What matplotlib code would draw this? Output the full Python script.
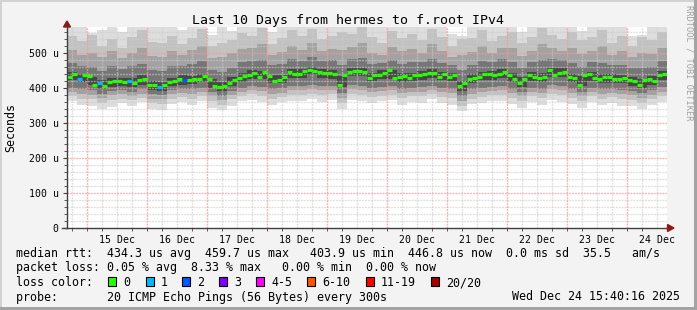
import matplotlib
matplotlib.use("Agg")
import matplotlib.pyplot as plt
import numpy as np
from matplotlib.patches import Rectangle, Polygon
from matplotlib.lines import Line2D

# ---------------- data ----------------
title = "Last 10 Days from hermes to f.root IPv4"
day_labels = ["15 Dec", "16 Dec", "17 Dec", "18 Dec", "19 Dec",
              "20 Dec", "21 Dec", "22 Dec", "23 Dec", "24 Dec"]
y_tick_values = [0, 100, 200, 300, 400, 500]
y_tick_labels = ["0", "100 u", "200 u", "300 u", "400 u", "500 u"]

# median RTT (microseconds), one value every 2 hours over 10 days
median_rtt = [431, 440, 425, 436, 433, 410, 414, 406, 418, 419,
              421, 416, 420, 415, 422, 427, 409, 408, 402, 410,
              417, 421, 425, 423, 423, 425, 426, 433, 426, 405,
              404, 407, 414, 424, 429, 435, 437, 442, 432, 446,
              433, 421, 422, 432, 447, 440, 440, 448, 451, 450,
              445, 442, 442, 440, 410, 436, 445, 449, 448, 447,
              430, 436, 438, 444, 452, 428, 431, 434, 428, 438,
              436, 440, 444, 442, 432, 440, 431, 436, 405, 413,
              427, 430, 432, 440, 440, 436, 440, 446, 438, 427,
              415, 427, 438, 432, 430, 432, 452, 438, 444, 446,
              432, 428, 410, 436, 440, 430, 426, 432, 431, 426,
              427, 428, 422, 420, 410, 423, 425, 420, 436, 440]
# packets lost (of 20) for each median sample
loss_count = [0, 0, 1, 0, 0, 0, 1, 0, 0, 0,
              0, 0, 1, 0, 0, 0, 0, 0, 1, 0,
              0, 0, 0, 2, 0, 0, 0, 0, 0, 0,
              0, 0, 0, 0, 0, 0, 0, 0, 0, 0,
              0, 0, 0, 0, 0, 0, 0, 0, 0, 0,
              0, 0, 0, 0, 0, 0, 0, 0, 0, 0,
              0, 0, 0, 0, 0, 0, 0, 0, 0, 0,
              0, 0, 0, 0, 0, 0, 0, 0, 0, 0,
              0, 0, 0, 0, 0, 0, 0, 0, 0, 0,
              0, 0, 0, 0, 0, 0, 0, 0, 0, 0,
              0, 0, 0, 0, 0, 0, 0, 0, 0, 0,
              0, 0, 0, 0, 0, 0, 0, 0, 0, 0]

# smoke: ping distribution per 4-hour column (upper edges hi0..hi4, lower edges lo4..lo0)
smoke_hi0 = [580, 580, 558, 565, 580, 560, 580, 580, 580, 575,
             580, 565, 580, 580, 552, 580, 562, 580, 580, 580,
             560, 580, 580, 580, 580, 580, 580, 580, 580, 580,
             580, 580, 580, 580, 580, 580, 580, 580, 555, 550,
             580, 580, 580, 580, 580, 560, 580, 580, 580, 580,
             580, 562, 580, 580, 580, 580, 548, 552, 580, 580]
smoke_hi1 = [548, 535, 552, 520, 540, 515, 545, 565, 532, 528,
             550, 525, 542, 570, 520, 530, 536, 558, 550, 572,
             525, 542, 565, 550, 568, 540, 548, 560, 554, 575,
             545, 530, 562, 544, 555, 536, 570, 546, 520, 540,
             542, 566, 535, 550, 560, 530, 546, 572, 552, 540,
             560, 538, 546, 565, 530, 550, 520, 545, 536, 560]
smoke_hi2 = [510, 495, 500, 488, 505, 485, 500, 515, 492, 488,
             505, 495, 510, 520, 485, 490, 500, 512, 515, 525,
             495, 504, 520, 510, 528, 505, 512, 510, 516, 530,
             500, 495, 518, 505, 512, 500, 525, 507, 490, 495,
             503, 520, 500, 515, 515, 492, 506, 525, 514, 505,
             515, 498, 506, 520, 495, 505, 490, 500, 498, 515]
smoke_hi3 = [472, 462, 460, 450, 462, 455, 462, 470, 452, 448,
             462, 464, 470, 476, 452, 447, 458, 474, 478, 480,
             465, 468, 482, 478, 488, 478, 480, 466, 484, 486,
             470, 472, 480, 468, 474, 473, 484, 472, 466, 452,
             466, 478, 473, 482, 474, 458, 473, 480, 482, 479,
             472, 460, 473, 472, 465, 466, 458, 457, 460, 476]
smoke_hi4 = [446, 440, 432, 422, 430, 429, 428, 436, 420, 418,
             430, 436, 435, 441, 427, 417, 431, 443, 451, 450,
             438, 438, 454, 455, 461, 454, 452, 434, 458, 458,
             444, 452, 451, 443, 444, 449, 454, 447, 444, 421,
             439, 447, 449, 454, 443, 432, 446, 442, 456, 456,
             441, 434, 446, 440, 439, 438, 432, 427, 433, 449]
smoke_lo4 = [422, 416, 408, 396, 404, 405, 403, 410, 394, 392,
             406, 410, 411, 416, 401, 391, 405, 418, 426, 425,
             413, 413, 429, 430, 436, 429, 427, 404, 433, 433,
             419, 427, 426, 418, 419, 424, 429, 422, 419, 392,
             414, 422, 424, 429, 418, 404, 421, 417, 431, 431,
             416, 406, 421, 415, 414, 413, 407, 400, 408, 424]
smoke_lo3 = [400, 396, 394, 384, 392, 393, 390, 396, 382, 380,
             394, 397, 396, 400, 388, 378, 392, 401, 406, 403,
             396, 399, 407, 406, 410, 405, 406, 386, 409, 406,
             400, 404, 405, 398, 400, 402, 407, 401, 398, 378,
             396, 401, 404, 406, 398, 388, 401, 397, 408, 406,
             397, 390, 401, 396, 398, 395, 392, 386, 393, 402]
smoke_lo2 = [388, 384, 380, 372, 380, 382, 378, 384, 370, 368,
             382, 386, 384, 390, 376, 366, 380, 390, 394, 391,
             384, 387, 395, 394, 398, 393, 394, 372, 397, 394,
             388, 392, 393, 386, 388, 390, 395, 389, 386, 364,
             384, 389, 392, 394, 386, 376, 389, 385, 396, 394,
             385, 376, 389, 384, 386, 383, 380, 372, 381, 390]
smoke_lo1 = [376, 370, 368, 358, 366, 370, 365, 372, 356, 354,
             370, 374, 370, 378, 362, 352, 368, 378, 382, 377,
             370, 375, 381, 380, 384, 379, 382, 358, 383, 380,
             374, 378, 381, 372, 376, 376, 383, 375, 372, 350,
             370, 375, 380, 380, 372, 362, 377, 371, 382, 380,
             371, 362, 377, 370, 374, 369, 366, 358, 369, 376]
smoke_lo0 = [362, 352, 350, 340, 346, 356, 350, 360, 340, 338,
             354, 360, 352, 364, 344, 336, 350, 362, 366, 360,
             352, 360, 364, 362, 368, 360, 366, 340, 366, 362,
             356, 362, 366, 352, 360, 358, 368, 357, 352, 334,
             353, 358, 364, 362, 354, 342, 360, 352, 366, 361,
             354, 344, 360, 352, 357, 350, 348, 340, 352, 360]

loss_colors = {0: "#26ff00", 1: "#00b8ff", 2: "#0059ff", 3: "#7e00ff",
               4: "#ff00ff", 6: "#ff5500", 11: "#ff0000", 20: "#a10000"}
legend_names = ["0", "1", "2", "3", "4-5", "6-10", "11-19", "20/20"]
legend_keys = [0, 1, 2, 3, 4, 6, 11, 20]

line_rtt = "median rtt:  434.3 us avg  459.7 us max   403.9 us min  446.8 us now  0.0 ms sd  35.5   am/s"
line_loss = "packet loss: 0.05 % avg  8.33 % max   0.00 % min  0.00 % now"
line_probe = "probe:       20 ICMP Echo Pings (56 Bytes) every 300s"
stamp = "Wed Dec 24 15:40:16 2025"

# ---------------- figure ----------------
W, H = 697, 310
MONO = "DejaVu Sans Mono"
fig = plt.figure(figsize=(W / 100, H / 100), dpi=100, facecolor="#f3f3f3")


def fx(px):
    return px / W


def fy(py):
    return 1 - py / H


X0, X1, Y0, Y1 = 67, 667, 228, 27
ax = fig.add_axes([fx(X0), fy(Y0), (X1 - X0) / W, (Y0 - Y1) / H])
ax.set_facecolor("white")
ax.set_xlim(0, 240)
ax.set_ylim(0, 574.3)

# smoke layers
edges_t = np.arange(len(smoke_hi0) + 1) * 4.0
layers = [(smoke_lo0, smoke_hi0, "#dddddd"),
          (smoke_lo1, smoke_hi1, "#c2c2c2"),
          (smoke_lo2, smoke_hi2, "#a2a2a2"),
          (smoke_lo3, smoke_hi3, "#767676"),
          (smoke_lo4, smoke_hi4, "#474747")]
for k, (lo, hi, c) in enumerate(layers):
    lo_e = np.append(lo, lo[-1])
    hi_e = np.append(hi, hi[-1])
    ax.fill_between(edges_t, lo_e, hi_e, step="post", color=c, lw=0,
                    zorder=1 + k, antialiased=False)

# grid (pixel-aligned dotted lines)
GREY, RED = "#cccccc", "#f59a9a"
for h in np.arange(2, 240, 6):
    is_major = (h - 8) % 24 == 0
    ax.axvline(h, color=RED if is_major else GREY, lw=1.0, ls=(0, (1.4, 0.7)),
               alpha=0.75 if is_major else 0.6, zorder=7 if is_major else 6, snap=True)
for v in range(20, 574, 20):
    is_major = v % 100 == 0
    ax.axhline(v, color=RED if is_major else GREY, lw=1.0, ls=(0, (1.4, 0.7)),
               alpha=0.75 if is_major else 0.6, zorder=7 if is_major else 6, snap=True)

# median
t_med = np.arange(len(median_rtt)) * 2 + 1


def loss_col(n):
    key = max(k for k in legend_keys if k <= n)
    return loss_colors[key]


cols = [loss_col(n) for n in loss_count]
ax.hlines(median_rtt, t_med - 1, t_med + 1, colors=cols, linewidth=2.3,
          zorder=10)

# axes styling
for s in ["top", "right"]:
    ax.spines[s].set_visible(False)
for s in ["left", "bottom"]:
    ax.spines[s].set_color("#404040")
    ax.spines[s].set_linewidth(1.0)
    ax.spines[s].set_zorder(12)

ax.set_yticks(y_tick_values)
ax.set_yticklabels(y_tick_labels, fontfamily=MONO, fontsize=7.1)
ax.set_yticks(np.arange(0, 574, 20), minor=True)
ax.tick_params(axis="y", which="major", length=3, width=0.8, color="#404040", pad=3)
ax.tick_params(axis="y", which="minor", length=2, width=0.6, color="#404040")

ax.set_xticks([20 + 24 * k for k in range(len(day_labels))])
ax.set_xticklabels(day_labels, fontfamily=MONO, fontsize=7.1)
ax.set_xticks(np.arange(2, 240, 6), minor=True)
ax.tick_params(axis="x", which="major", length=0, pad=5)
ax.tick_params(axis="x", which="minor", length=2, width=0.6, color="#404040")

# arrows
arrow_c = "#8b1a1a"
fig.patches.append(Polygon([(fx(67), fy(21)), (fx(63.5), fy(27)), (fx(70.5), fy(27))],
                           closed=True, transform=fig.transFigure, color=arrow_c))
fig.patches.append(Polygon([(fx(674), fy(228)), (fx(667.5), fy(224.5)), (fx(667.5), fy(231.5))],
                           closed=True, transform=fig.transFigure, color=arrow_c))
fig.lines.append(Line2D([fx(62), fx(67)], [fy(228), fy(228)], transform=fig.transFigure,
                        color="#404040", lw=1.0))

# frame shading
fig.patches.append(Rectangle((0, fy(2)), 1, fy(0) - fy(2), transform=fig.transFigure,
                             color="#d2d2d2", lw=0))
fig.patches.append(Rectangle((0, 0), fx(2), 1, transform=fig.transFigure,
                             color="#d2d2d2", lw=0))
fig.patches.append(Rectangle((fx(694), 0), fx(3), 1, transform=fig.transFigure,
                             color="#a3a3a3", lw=0))
fig.patches.append(Rectangle((0, 0), 1, fy(307), transform=fig.transFigure,
                             color="#a3a3a3", lw=0))

# texts
fig.text(fx(348), fy(24), title, ha="center", va="baseline", fontsize=9.5,
         family=MONO, color="#000000")
fig.text(fx(11), fy(127), "Seconds", rotation=90, ha="center", va="center",
         fontsize=8.4, family=MONO)
fig.text(fx(689), fy(5), "RRDTOOL / TOBI OETIKER", rotation=270, ha="center",
         va="top", fontsize=6.2, family=MONO, color="#a0a0a0")

fig.text(fx(16), fy(257), line_rtt, ha="left", va="baseline", fontsize=8.4, family=MONO)
fig.text(fx(16), fy(271.5), line_loss, ha="left", va="baseline", fontsize=8.4, family=MONO)
fig.text(fx(16), fy(286), "loss color:", ha="left", va="baseline", fontsize=8.4, family=MONO)
fig.text(fx(16), fy(300.5), line_probe, ha="left", va="baseline", fontsize=8.4, family=MONO)
fig.text(fx(680), fy(300.5), stamp, ha="right", va="baseline", fontsize=8.4, family=MONO)

sq_x = [108, 146, 182, 219, 256, 307, 366, 431]
for px, key, name in zip(sq_x, legend_keys, legend_names):
    fig.patches.append(Rectangle((fx(px), fy(286)), fx(8), fy(277) - fy(286),
                                 transform=fig.transFigure, facecolor=loss_colors[key],
                                 edgecolor="black", lw=0.8))
    fig.text(fx(px + 15), fy(286), name, ha="left", va="baseline", fontsize=8.4, family=MONO)

fig.savefig("out.png", dpi=100, facecolor=fig.get_facecolor())
